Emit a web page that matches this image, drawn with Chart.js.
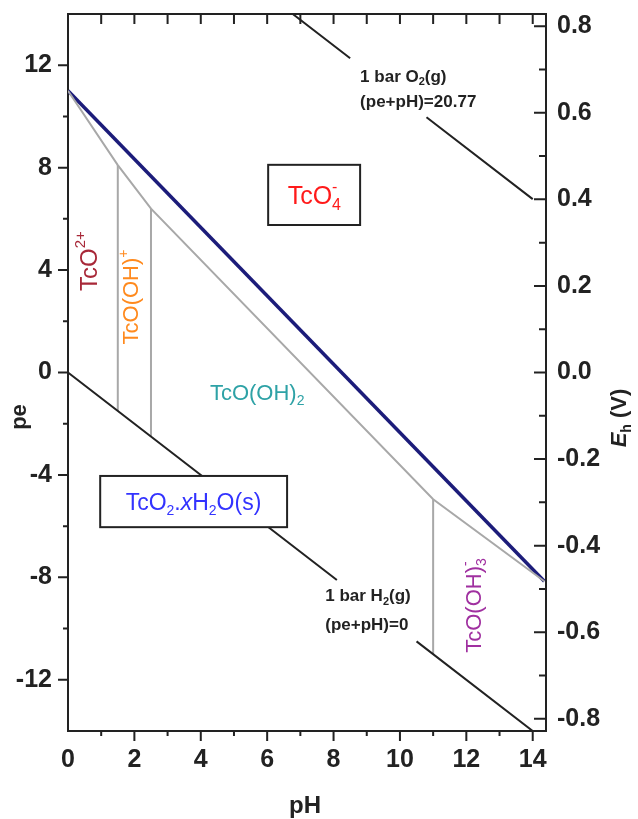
<!DOCTYPE html>
<html>
<head>
<meta charset="utf-8">
<script src="https://cdn.jsdelivr.net/npm/chart.js@4.4.1/dist/chart.umd.min.js"></script>
<style>
  html, body { margin: 0; padding: 0; background: #fff; }
  #wrap { width: 638px; height: 819px; }
</style>
</head>
<body>
<div id="wrap"><canvas id="grafico" width="638" height="819"></canvas></div>
<script>
// ejes
const phTicks = [0, 2, 4, 6, 8, 10, 12, 14];
const peTicks = [-12, -8, -4, 0, 4, 8, 12];
const ehTicks = [-0.8, -0.6, -0.4, -0.2, 0.0, 0.2, 0.4, 0.6, 0.8];
const EH_PER_PE = 0.05916;

// lineas del agua (null = hueco para la etiqueta)
const o2PH = [6.77, 8.5, null, 10.8, 14.0];
const o2Pe = [14.0, 12.27, null, 9.97, 6.77];
const h2PH = [0, 8.1, null, 10.5, 14.0];
const h2Pe = [0, -8.1, null, -10.5, -14.0];

// limite TcO4- / Tc(IV)
const tco4PH = [0, 14.35];
const tco4Pe = [11.0, -8.15];

// limites entre especies acuosas de Tc(IV)
const acuosoPH = [0, 1.5, 2.5, 11.0, 14.35];
const acuosoPe = [11.0, 8.1, 6.4, -4.95, -8.15];

// lineas verticales (pH, pe arriba, pe abajo)
const vertPH = [1.5, 2.5, 11.0];
const vertPeTop = [8.1, 6.4, -4.95];
const vertPeBottom = [-1.5, -2.5, -11.0];

const FONT = '"Liberation Sans", Arial, sans-serif';

function puntos(xs, ys) {
    return xs.map((x, i) => ({x: x, y: ys[i]}));
}

const datasets = [
    {data: puntos(o2PH, o2Pe), borderColor: '#222', borderWidth: 2},
    {data: puntos(h2PH, h2Pe), borderColor: '#222', borderWidth: 2},
    {data: puntos(acuosoPH, acuosoPe), borderColor: '#a8a8a8', borderWidth: 2},
];
vertPH.forEach((ph, i) => {
    datasets.push({data: [{x: ph, y: vertPeTop[i]}, {x: ph, y: vertPeBottom[i]}], borderColor: '#a8a8a8', borderWidth: 2});
});
datasets.push({data: puntos(tco4PH, tco4Pe), borderColor: '#1c1c7a', borderWidth: 3.5});
datasets.forEach(d => { d.showLine = true; d.pointRadius = 0; d.spanGaps = false; d.fill = false; });

// texto con subindices / superindices
function drawRich(ctx, parts, px, py, opt) {
    const size = opt.size, small = Math.round(size * 0.62);
    const weight = opt.weight || 'normal';
    const fontFor = (p, sz) => (p.italic ? 'italic ' : '') + weight + ' ' + sz + 'px ' + FONT;
    const widths = parts.map(p => {
        if (p.t !== undefined) { ctx.font = fontFor(p, size); return ctx.measureText(p.t).width; }
        ctx.font = fontFor(p, small);
        return Math.max(ctx.measureText(p.sub || '').width, ctx.measureText(p.sup || '').width);
    });
    const total = widths.reduce((a, b) => a + b, 0);
    ctx.save();
    ctx.translate(px, py);
    if (opt.rotate) ctx.rotate(opt.rotate);
    ctx.fillStyle = opt.color;
    ctx.textAlign = 'left';
    ctx.textBaseline = 'alphabetic';
    let x = opt.align === 'left' ? 0 : -total / 2;
    const base = size * 0.36;
    parts.forEach((p, i) => {
        if (p.t !== undefined) {
            ctx.font = fontFor(p, size);
            ctx.fillText(p.t, x, base);
        } else {
            ctx.font = fontFor(p, small);
            if (p.sub) ctx.fillText(p.sub, x, base + size * 0.22);
            if (p.sup) ctx.fillText(p.sup, x, base - size * 0.48);
        }
        x += widths[i];
    });
    ctx.restore();
}

function caja(ctx, xs, ys, x0, x1, y0, y1) {
    const l = xs.getPixelForValue(x0), r = xs.getPixelForValue(x1);
    const t = ys.getPixelForValue(y0), b = ys.getPixelForValue(y1);
    ctx.save();
    ctx.fillStyle = '#fff';
    ctx.fillRect(l, t, r - l, b - t);
    ctx.strokeStyle = '#222';
    ctx.lineWidth = 2;
    ctx.strokeRect(l, t, r - l, b - t);
    ctx.restore();
}

const etiquetas = {
    id: 'etiquetas',
    afterDatasetsDraw(chart) {
        const ctx = chart.ctx;
        const xs = chart.scales.x, ys = chart.scales.y;
        const P = (ph, pe) => [xs.getPixelForValue(ph), ys.getPixelForValue(pe)];
        const UP = -Math.PI / 2;

        // cajas
        caja(ctx, xs, ys, 6.03, 8.8, 8.11, 5.76);
        let p = P(7.42, 6.93);
        drawRich(ctx, [{t: 'TcO'}, {sub: '4', sup: '-'}], p[0], p[1], {size: 25, color: '#ff1a1a'});

        caja(ctx, xs, ys, 0.97, 6.6, -4.04, -6.04);
        p = P(3.78, -5.04);
        drawRich(ctx, [{t: 'TcO'}, {sub: '2'}, {t: '.'}, {t: 'x', italic: true}, {t: 'H'}, {sub: '2'}, {t: 'O(s)'}],
            p[0], p[1], {size: 23, color: '#3333ff'});

        // especies acuosas
        p = P(0.61, 4.35);
        drawRich(ctx, [{t: 'TcO'}, {sup: '2+'}], p[0], p[1], {size: 24, color: '#a82838', rotate: UP});
        p = P(1.88, 2.95);
        drawRich(ctx, [{t: 'TcO(OH)'}, {sup: '+'}], p[0], p[1], {size: 22, color: '#ff8a1e', rotate: UP});
        p = P(5.7, -0.76);
        drawRich(ctx, [{t: 'TcO(OH)'}, {sub: '2'}], p[0], p[1], {size: 22, color: '#2ea2a6'});
        p = P(12.2, -9.1);
        drawRich(ctx, [{t: 'TcO(OH)'}, {sub: '3', sup: '-'}], p[0], p[1], {size: 22, color: '#a030a0', rotate: UP});

        // lineas del agua
        p = P(8.8, 11.6);
        drawRich(ctx, [{t: '1 bar O'}, {sub: '2'}, {t: '(g)'}], p[0], p[1], {size: 17, weight: 'bold', color: '#222', align: 'left'});
        p = P(8.8, 10.6);
        drawRich(ctx, [{t: '(pe+pH)=20.77'}], p[0], p[1], {size: 17, weight: 'bold', color: '#222', align: 'left'});
        p = P(7.75, -8.7);
        drawRich(ctx, [{t: '1 bar H'}, {sub: '2'}, {t: '(g)'}], p[0], p[1], {size: 17, weight: 'bold', color: '#222', align: 'left'});
        p = P(7.75, -9.8);
        drawRich(ctx, [{t: '(pe+pH)=0'}], p[0], p[1], {size: 17, weight: 'bold', color: '#222', align: 'left'});
    },
    afterDraw(chart) {
        const ctx = chart.ctx;
        const a = chart.chartArea;
        const xs = chart.scales.x, ys = chart.scales.y, y2 = chart.scales.y2;
        ctx.save();
        ctx.strokeStyle = '#222';
        ctx.lineWidth = 2;
        // marco superior
        ctx.beginPath();
        ctx.moveTo(a.left - 1, a.top);
        ctx.lineTo(a.right + 1, a.top);
        ctx.stroke();
        ctx.beginPath();
        // izquierda (hacia fuera)
        for (let v = -12; v <= 12; v += 2) {
            const y = ys.getPixelForValue(v);
            const len = v % 4 === 0 ? 10 : 5;
            ctx.moveTo(a.left, y); ctx.lineTo(a.left - len, y);
        }
        // abajo (hacia fuera) y arriba (hacia dentro)
        for (let v = 1; v <= 14; v++) {
            const x = xs.getPixelForValue(v);
            const len = v % 2 === 0 ? 10 : 5;
            ctx.moveTo(x, a.bottom); ctx.lineTo(x, a.bottom + len);
            ctx.moveTo(x, a.top); ctx.lineTo(x, a.top + 10);
        }
        // derecha (hacia dentro)
        for (let k = -8; k <= 8; k++) {
            const y = y2.getPixelForValue(k / 10);
            const len = k % 2 === 0 ? 12 : 7;
            ctx.moveTo(a.right, y); ctx.lineTo(a.right - len, y);
        }
        ctx.stroke();
        ctx.restore();

        // titulos de ejes
        drawRich(ctx, [{t: 'pe'}], 18, 417, {size: 22, weight: 'bold', color: '#222', rotate: -Math.PI / 2});
        drawRich(ctx, [{t: 'pH'}], 305, 804, {size: 24, weight: 'bold', color: '#222'});
        drawRich(ctx, [{t: 'E', italic: true}, {sub: 'h'}, {t: ' (V)'}], 618, 418, {size: 22, weight: 'bold', color: '#222', rotate: -Math.PI / 2});
    }
};

const tickFont = {family: FONT, size: 25, weight: 'bold'};
const borde = {display: true, color: '#222', width: 2};
const sinPadding = s => { s.paddingTop = 0; s.paddingBottom = 0; };

const ctx = document.getElementById('grafico').getContext('2d');
new Chart(ctx, {
    type: 'scatter',
    data: {datasets: datasets},
    options: {
        responsive: false,
        animation: false,
        layout: {padding: {top: 14, left: 0, right: 0, bottom: 0}},
        plugins: {legend: {display: false}, tooltip: {enabled: false}},
        scales: {
            x: {
                type: 'linear', position: 'bottom', min: 0, max: 14.4,
                grid: {display: false, drawTicks: false}, border: borde,
                ticks: {font: tickFont, color: '#222', padding: 14, maxRotation: 0},
                afterBuildTicks: s => { s.ticks = phTicks.map(v => ({value: v})); },
                afterFit: s => { s.height = 88; s.paddingLeft = 0; s.paddingRight = 0; }
            },
            y: {
                type: 'linear', position: 'left', min: -14, max: 14,
                grid: {display: false, drawTicks: false}, border: borde,
                ticks: {font: tickFont, color: '#222', padding: 16},
                afterBuildTicks: s => { s.ticks = peTicks.map(v => ({value: v})); },
                afterFit: s => { s.width = 68; sinPadding(s); }
            },
            y2: {
                type: 'linear', position: 'right', display: true,
                min: -14 * EH_PER_PE, max: 14 * EH_PER_PE,
                grid: {display: false, drawTicks: false}, border: borde,
                ticks: {font: tickFont, color: '#222', padding: 11, callback: v => v.toFixed(1)},
                afterBuildTicks: s => { s.ticks = ehTicks.map(v => ({value: v})); },
                afterFit: s => { s.width = 92; sinPadding(s); }
            }
        }
    },
    plugins: [etiquetas]
});
</script>
</body>
</html>
